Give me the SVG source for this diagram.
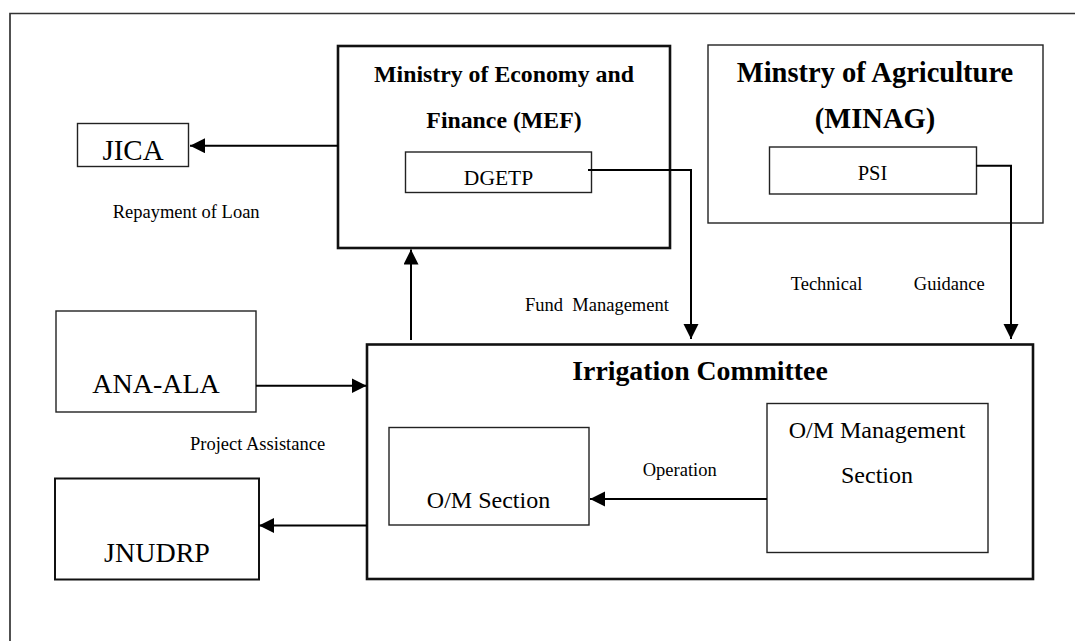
<svg xmlns="http://www.w3.org/2000/svg" width="1075" height="641" viewBox="0 0 1075 641">
<style>
  text { font-family: "Liberation Serif", "Times New Roman", serif; fill: #000; }
  .box { fill: #fff; stroke: #222; stroke-width: 1.4; }
  .thick { fill: #fff; stroke: #111; stroke-width: 2.6; }
  .mid { fill: #fff; stroke: #111; stroke-width: 2; }
  .lbl { font-size: 18.5px; }
  .big { font-size: 28px; text-anchor: middle; }
  .med { font-size: 24px; text-anchor: middle; }
  .title { font-weight: bold; text-anchor: middle; }
  .conn { fill: none; stroke: #000; stroke-width: 2; }
</style>
<defs>
  <marker id="arr" markerUnits="userSpaceOnUse" markerWidth="16" markerHeight="16" refX="15" refY="7.5" orient="auto" viewBox="0 0 16 16">
    <path d="M0,0 L15,7.5 L0,15 z" fill="#000"/>
  </marker>
</defs>
<rect width="1075" height="641" fill="#fff"/>
<path d="M10,650 V13.5 H1085" fill="none" stroke="#333" stroke-width="1.7"/>

<g id="jica">
  <rect class="box" x="77.5" y="123.5" width="111" height="43"/>
  <text class="big" x="133" y="160" style="font-size:29px">JICA</text>
</g>
<g id="mef">
  <rect class="thick" x="338" y="46" width="332" height="202"/>
  <text class="title" x="504" y="81.7" style="font-size:23.8px">Ministry of Economy and</text>
  <text class="title" x="504" y="128.3" style="font-size:23.8px">Finance (MEF)</text>
</g>
<g id="dgetp">
  <rect class="box" x="405.5" y="152" width="186" height="40.5"/>
  <text x="498.5" y="185" style="font-size:21.5px;text-anchor:middle">DGETP</text>
</g>
<g id="minag">
  <rect class="box" x="708" y="45" width="335" height="178" stroke-width="1.2"/>
  <text class="title" x="875" y="81.5" style="font-size:28.5px">Minstry of Agriculture</text>
  <text class="title" x="875" y="128.3" style="font-size:28.5px">(MINAG)</text>
</g>
<g id="psi">
  <rect class="box" x="769.5" y="147" width="207" height="47"/>
  <text x="872.5" y="180" style="font-size:20.5px;text-anchor:middle">PSI</text>
</g>
<g id="ana-ala">
  <rect class="box" x="56" y="311" width="200" height="101"/>
  <text class="big" x="156" y="392.7">ANA-ALA</text>
</g>
<g id="jnudrp">
  <rect class="mid" x="55" y="478.5" width="204" height="101"/>
  <text class="big" x="157" y="561.7">JNUDRP</text>
</g>
<g id="irrigation-committee">
  <rect class="thick" x="367" y="344.5" width="666" height="234.5" stroke-width="3"/>
  <text class="title" x="700" y="380" style="font-size:27.8px">Irrigation Committee</text>
</g>
<g id="om-section">
  <rect class="box" x="389" y="427.5" width="200" height="97.5"/>
  <text class="med" x="488.5" y="507.7">O/M Section</text>
</g>
<g id="om-management-section">
  <rect class="box" x="767" y="403.5" width="221" height="149"/>
  <text class="med" x="877" y="437.7">O/M Management</text>
  <text class="med" x="877" y="483.3">Section</text>
</g>

<g id="connectors">
  <path class="conn" d="M338,145.7 H190" marker-end="url(#arr)"/>
  <path class="conn" d="M411,340 V249.5" marker-end="url(#arr)"/>
  <path class="conn" d="M256,385.7 H366.5" stroke-width="1.6" marker-end="url(#arr)"/>
  <path class="conn" d="M367,525.5 H259" marker-end="url(#arr)"/>
  <path class="conn" d="M588,170 H691 V339" marker-end="url(#arr)"/>
  <path class="conn" d="M976,165.7 H1011 V339" marker-end="url(#arr)"/>
  <path class="conn" d="M767,499 H590" marker-end="url(#arr)"/>
</g>

<g id="labels">
  <text class="lbl" x="112.7" y="218.3">Repayment of Loan</text>
  <text class="lbl" x="525" y="311" xml:space="preserve" style="white-space:pre">Fund  Management</text>
  <text class="lbl" x="790.7" y="290">Technical</text>
  <text class="lbl" x="913.8" y="290">Guidance</text>
  <text class="lbl" x="190" y="449.5">Project Assistance</text>
  <text class="lbl" x="642.7" y="475.7">Operation</text>
</g>
</svg>
